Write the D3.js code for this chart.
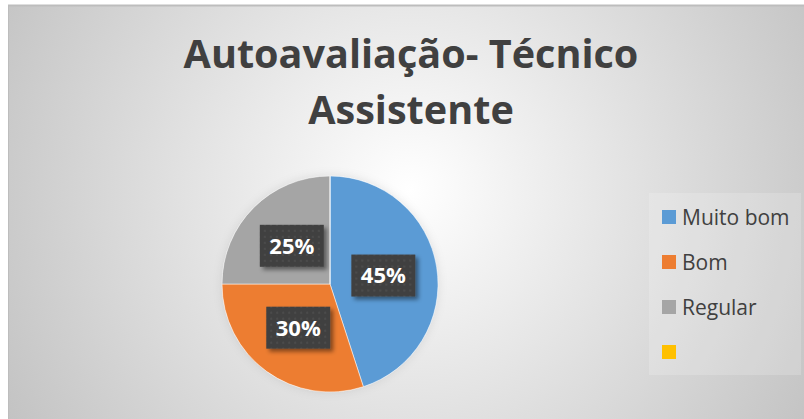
<!DOCTYPE html>
<html>
<head>
<meta charset="utf-8">
<script src="https://cdn.jsdelivr.net/npm/d3@7"></script>
<style>
  body { margin: 0; background: #fff; }
  svg { display: block; }
</style>
</head>
<body>
<svg id="chart" width="804" height="419"></svg>
<script>
// data
var categories = ["Muito bom", "Bom", "Regular", ""]
var values = [45, 30, 25, 0]
var colors = ["#5b9bd5", "#ed7d31", "#a5a5a5", "#ffc000"]
var titleLines = ["Autoavaliação- Técnico", "Assistente"]

var svg = d3.select("#chart")
var defs = svg.append("defs")

// background gradient
var bg = defs.append("radialGradient")
    .attr("id", "bg")
    .attr("gradientUnits", "userSpaceOnUse")
    .attr("cx", 410).attr("cy", 190).attr("r", 470)
bg.append("stop").attr("offset", "0%").attr("stop-color", "#ffffff")
bg.append("stop").attr("offset", "100%").attr("stop-color", "#c2c2c2")

// texture for the label boxes
var pat = defs.append("pattern")
    .attr("id", "dots")
    .attr("patternUnits", "userSpaceOnUse")
    .attr("width", 6).attr("height", 6)
pat.append("rect").attr("width", 6).attr("height", 6).attr("fill", "#404040")
pat.append("rect").attr("x", 2).attr("y", 2).attr("width", 2).attr("height", 2).attr("fill", "#4c4c4c")

var shadow = defs.append("filter").attr("id", "shadow")
    .attr("x", "-30%").attr("y", "-30%").attr("width", "160%").attr("height", "160%")
shadow.append("feDropShadow")
    .attr("dx", 3).attr("dy", 3).attr("stdDeviation", 2)
    .attr("flood-color", "#000").attr("flood-opacity", 0.45)

var glow = defs.append("filter").attr("id", "glow")
    .attr("x", "-20%").attr("y", "-20%").attr("width", "140%").attr("height", "140%")
glow.append("feDropShadow")
    .attr("dx", 0).attr("dy", 0).attr("stdDeviation", 5)
    .attr("flood-color", "#000").attr("flood-opacity", 0.1)

// chart area
svg.append("rect")
    .attr("x", 8).attr("y", 5)
    .attr("width", 796).attr("height", 414)
    .attr("fill", "url(#bg)")
svg.append("line")
    .attr("x1", 8).attr("x2", 804).attr("y1", 5.5).attr("y2", 5.5)
    .attr("stroke", "#bdbdbd").attr("stroke-width", 2)
svg.append("line")
    .attr("x1", 8.5).attr("x2", 8.5).attr("y1", 5).attr("y2", 419)
    .attr("stroke", "#bdbdbd").attr("stroke-width", 1)

// title
var title = svg.append("text")
    .attr("text-anchor", "middle")
    .style("font-family", "'Open Sans', sans-serif")
    .style("font-weight", "bold")
    .style("font-size", "36px")
    .attr("fill", "#404040")
title.selectAll("tspan")
    .data(titleLines)
    .enter()
    .append("tspan")
    .attr("x", 411)
    .attr("y", function (d, i) { return 68 + i * 56 })
    .text(function (d) { return d })

// fit first line width to the reference (~455px)
var w = title.select("tspan").node().getComputedTextLength()
title.style("font-size", (36 * 455 / w) + "px")

// pie
var cx = 330, cy = 284, R = 108
var pie = d3.pie().sort(null).value(function (d) { return d })
var arcs = pie(values)
var arc = d3.arc().innerRadius(0).outerRadius(R)

var g = svg.append("g").attr("transform", "translate(" + cx + "," + cy + ")")

g.append("circle").attr("r", R).attr("fill", "#fff").attr("filter", "url(#glow)")

g.selectAll("path")
    .data(arcs)
    .enter()
    .append("path")
    .attr("d", arc)
    .attr("fill", function (d, i) { return colors[i] })
    .attr("stroke", "#fff")
    .attr("stroke-width", 0.5)

var labels = g.selectAll("g.lbl")
    .data(arcs.filter(function (d) { return d.value > 0 }))
    .enter()
    .append("g")
    .attr("class", "lbl")
    .attr("transform", function (d) { return "translate(" + arc.centroid(d) + ")" })

labels.append("rect")
    .attr("x", -32).attr("y", -21)
    .attr("width", 64).attr("height", 42)
    .attr("fill", "url(#dots)")
    .attr("filter", "url(#shadow)")

labels.append("text")
    .attr("text-anchor", "middle")
    .attr("dy", "0.36em")
    .style("font-family", "'Open Sans', sans-serif")
    .style("font-weight", "bold")
    .style("font-size", "22px")
    .attr("fill", "#fff")
    .text(function (d) { return d.value + "%" })

// legend
svg.append("rect")
    .attr("x", 649).attr("y", 193)
    .attr("width", 152).attr("height", 182)
    .attr("fill", "#fff").attr("opacity", 0.18)

var legend = svg.selectAll("g.leg")
    .data(categories)
    .enter()
    .append("g")
    .attr("class", "leg")
    .attr("transform", function (d, i) { return "translate(662," + (217 + i * 45) + ")" })

legend.append("rect")
    .attr("x", 0).attr("y", -7)
    .attr("width", 14).attr("height", 14)
    .attr("fill", function (d, i) { return colors[i] })

legend.append("text")
    .attr("x", 20)
    .attr("dy", "0.36em")
    .style("font-family", "'Open Sans', sans-serif")
    .style("font-size", "21px")
    .attr("fill", "#404040")
    .text(function (d) { return d })
</script>
</body>
</html>
